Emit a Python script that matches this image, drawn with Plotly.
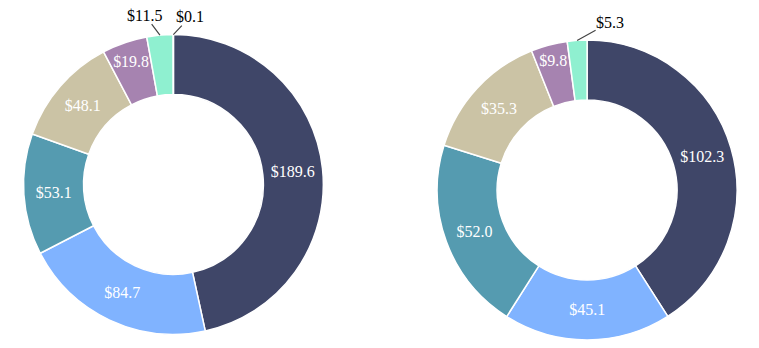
import math
import plotly.graph_objects as go

# Segment values for the two donuts (in $), drawn clockwise from 12 o'clock
left_labels = ["A", "B", "C", "D", "E", "F", "G"]
left_values = [189.6, 84.7, 53.1, 48.1, 19.8, 11.5, 0.1]

right_labels = ["A", "B", "C", "D", "E", "F"]
right_values = [102.3, 45.1, 52.0, 35.3, 9.8, 5.3]

palette = ["#3f4668", "#80b3ff", "#559bb0", "#cbc3a5", "#a683b0", "#8ff0d0", "#8b8fa6"]

FONT = "Liberation Serif, Times New Roman, serif"
W, H = 759, 348

# slices too thin for an inside label get a leader-line label instead,
# with (dx, dy) pixel offsets of the label from the slice's outer edge
left_callouts = {5: (-15, -20), 6: (17, -18)}
right_callouts = {5: (33, -18)}

left_domain = dict(x=[0.031, 0.426], y=[0.039, 0.901])
right_domain = dict(x=[0.576, 0.971], y=[0.023, 0.885])


def donut(labels, values, domain, callouts):
    n = len(values)
    return go.Pie(
        labels=labels,
        values=values,
        hole=0.6,
        sort=False,
        direction="clockwise",
        rotation=0,
        marker=dict(colors=palette[:n], line=dict(color="white", width=1.5)),
        texttemplate="$%{value:.1f}",
        textposition=["none" if i in callouts else "inside" for i in range(n)],
        insidetextorientation="horizontal",
        insidetextfont=dict(color="white", size=16, family=FONT),
        showlegend=False,
        hoverinfo="label+value+percent",
        domain=domain,
    )


def callout_annotations(values, domain, callouts):
    # pie centre and radius follow from the domain box
    x0, x1 = domain["x"][0] * W, domain["x"][1] * W
    y0, y1 = (1 - domain["y"][1]) * H, (1 - domain["y"][0]) * H
    cx, cy = (x0 + x1) / 2, (y0 + y1) / 2
    r = min(x1 - x0, y1 - y0) / 2
    total = sum(values)
    anns = []
    start = 0.0
    for i, v in enumerate(values):
        mid = (start + v / 2) / total * 2 * math.pi
        start += v
        if i not in callouts:
            continue
        px = cx + r * math.sin(mid)
        py = cy - r * math.cos(mid)
        dx, dy = callouts[i]
        anns.append(
            dict(
                x=px / W,
                y=1 - py / H,
                xref="paper",
                yref="paper",
                text=f"${v:.1f}",
                showarrow=True,
                arrowhead=0,
                arrowwidth=1.2,
                arrowcolor="#444444",
                ax=dx,
                ay=dy,
                font=dict(color="black", size=16, family=FONT),
                borderpad=0,
            )
        )
    return anns


fig = go.Figure()
fig.add_trace(donut(left_labels, left_values, left_domain, left_callouts))
fig.add_trace(donut(right_labels, right_values, right_domain, right_callouts))

fig.update_layout(
    width=W,
    height=H,
    margin=dict(l=0, r=0, t=0, b=0),
    paper_bgcolor="white",
    plot_bgcolor="white",
    font=dict(family=FONT, size=16),
    annotations=callout_annotations(left_values, left_domain, left_callouts)
    + callout_annotations(right_values, right_domain, right_callouts),
)

fig.write_html("out.html")
